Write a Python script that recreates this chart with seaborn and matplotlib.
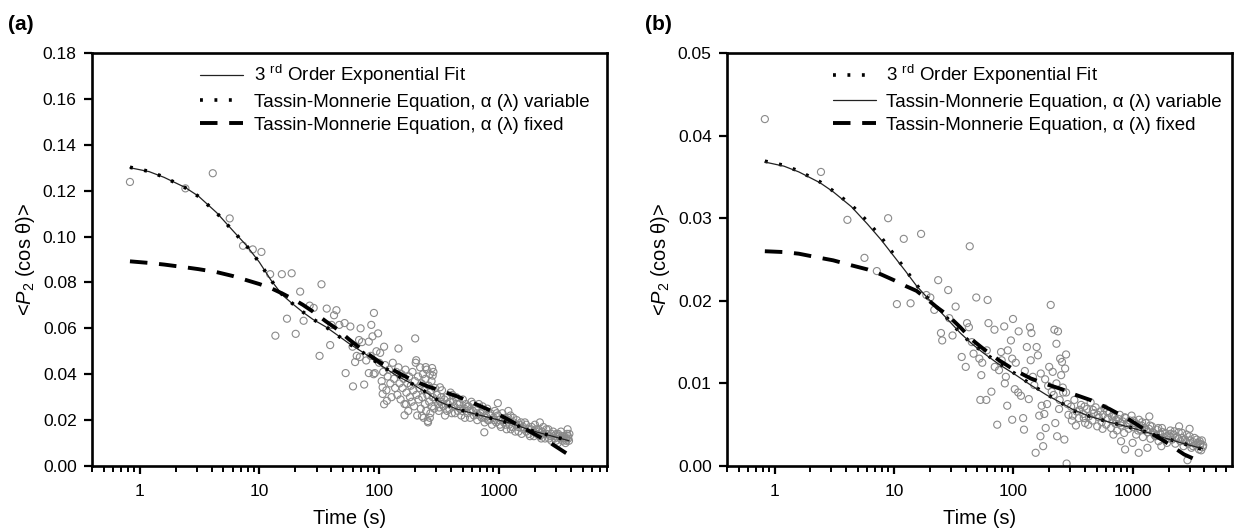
"""
Orientation decay <P2(cos theta)> vs time, two samples (a) and (b),
with 3rd order exponential fit and Tassin-Monnerie fits.
"""

import numpy as np
import pandas as pd
import matplotlib
matplotlib.use('Agg')
import matplotlib.pyplot as plt
import seaborn as sns

# ---- panel (a) measured points (time s, <P2>) ----
a_time = [0.83, 2.41, 4.08, 5.65, 7.3, 8.8, 10.4, 12.3, 15.4, 18.6, 17, 13.6, 20.1, 21.9, 23.4,
          26.3, 28.4, 33, 36.5, 31.8, 40, 44, 42, 39, 46.5, 51.5, 57.5, 52.5, 60.5, 75, 63, 69, 68,
          82, 86, 90.5, 88, 98, 82, 92, 102, 107, 110, 116, 107, 145, 200, 204, 245, 277, 280, 168,
          163, 228, 255, 265, 322, 318, 335, 980, 756, 60, 65, 72, 78, 95, 100, 90, 85, 110, 70,
          105, 108, 112, 115, 118, 121, 124, 127, 130, 133, 136, 139, 142, 145, 148, 151, 154, 157,
          160, 163, 166, 169, 172, 175, 178, 181, 184, 187, 190, 193, 196, 199, 202, 205, 208, 211,
          214, 217, 220, 223, 226, 229, 232, 235, 238, 241, 244, 247, 250, 253, 256, 259, 262, 265,
          268, 271, 274, 277, 280, 284, 288, 292, 296,
          305, 315, 325, 335, 345, 355, 365, 375, 385, 395, 405, 415, 425, 440, 455, 470, 485, 500,
          515, 530, 545, 560, 575, 590, 605, 620, 640, 660, 680, 700, 720, 740, 760, 780, 800, 825,
          850, 875, 900, 925, 950, 980, 1010, 1040, 1070, 1100, 1130, 1160, 1190, 1220, 1250, 1290,
          1330, 1370, 1410, 1450, 1500, 1550, 1600, 1650, 1700, 1760, 1820, 1880, 1940, 2000, 2070,
          2140, 2210, 2280, 2350, 2430, 2510, 2590, 2670, 2750, 2840, 2930, 3020, 3110, 3200, 3300,
          3400, 3500, 3600, 3700, 3800, 3850, 3750, 3650, 1200, 2200,
          310, 330, 350, 370, 390, 410, 430, 450, 475, 495, 520, 550, 580, 610, 650, 690, 730, 770,
          810, 860, 910, 960, 1020, 1080, 1140, 1200, 1260, 1320, 1390, 1460, 1530, 1610, 1690, 1780,
          1860, 1960, 2050, 2160, 2260, 2380, 2490, 2620, 2740, 2870, 3000, 3130, 3260, 3390, 3520,
          3660, 3780, 3880]
a_p2 = [0.1238, 0.1210, 0.1276, 0.1079, 0.0960, 0.0944, 0.0933, 0.0836, 0.0836, 0.0840, 0.0642,
        0.0568, 0.0576, 0.0760, 0.0633, 0.0699, 0.0689, 0.0792, 0.0686, 0.0480, 0.0615, 0.0679,
        0.0657, 0.0527, 0.0615, 0.0623, 0.0608, 0.0405, 0.0347, 0.0355, 0.0453, 0.0475, 0.0549,
        0.0542, 0.0615, 0.0667, 0.0565, 0.0578, 0.0405, 0.0405, 0.0493, 0.0343, 0.0269, 0.0284,
        0.0314, 0.0512, 0.0556, 0.0461, 0.0431, 0.0427, 0.0394, 0.0269, 0.0221, 0.0218, 0.0196,
        0.0210, 0.0343, 0.0255, 0.0269, 0.0274, 0.0147, 0.052, 0.048, 0.054, 0.046, 0.050, 0.045,
        0.040, 0.048, 0.052, 0.060,
        0.037, 0.041, 0.044, 0.033, 0.039, 0.042, 0.036, 0.030, 0.045, 0.038, 0.034, 0.041, 0.031,
        0.043, 0.036, 0.029, 0.040, 0.034, 0.038, 0.027, 0.042, 0.032, 0.036, 0.024, 0.039, 0.030,
        0.035, 0.028, 0.041, 0.033, 0.026, 0.037, 0.045, 0.031, 0.022, 0.039, 0.029, 0.034, 0.043,
        0.025, 0.036, 0.030, 0.040, 0.021, 0.033, 0.027, 0.038, 0.024, 0.042, 0.031, 0.019, 0.035,
        0.028, 0.040, 0.023, 0.033, 0.037, 0.026, 0.030, 0.041, 0.025, 0.034, 0.029,
        0.031, 0.024, 0.028, 0.033, 0.026, 0.022, 0.030, 0.027, 0.025, 0.032, 0.023, 0.028, 0.026,
        0.030, 0.024, 0.027, 0.022, 0.029, 0.025, 0.027, 0.023, 0.026, 0.021, 0.028, 0.024, 0.022,
        0.025, 0.020, 0.027, 0.023, 0.021, 0.024, 0.019, 0.022, 0.025, 0.020, 0.023, 0.018, 0.021,
        0.024, 0.019, 0.022, 0.020, 0.017, 0.023, 0.019, 0.021, 0.016, 0.020, 0.018, 0.022, 0.017,
        0.019, 0.015, 0.020, 0.017, 0.018, 0.014, 0.017, 0.019, 0.015, 0.016, 0.013, 0.017, 0.015,
        0.018, 0.014, 0.016, 0.013, 0.015, 0.017, 0.012, 0.014, 0.016, 0.013, 0.011, 0.015, 0.012,
        0.014, 0.010, 0.013, 0.015, 0.011, 0.013, 0.010, 0.014, 0.012, 0.011, 0.016, 0.012, 0.024,
        0.019,
        0.027, 0.030, 0.029, 0.024, 0.028, 0.031, 0.023, 0.027, 0.025, 0.024, 0.021, 0.026, 0.024,
        0.027, 0.023, 0.022, 0.026, 0.021, 0.020, 0.022, 0.020, 0.023, 0.018, 0.020, 0.018, 0.021,
        0.016, 0.021, 0.018, 0.015, 0.019, 0.016, 0.018, 0.014, 0.016, 0.013, 0.016, 0.015, 0.012,
        0.014, 0.016, 0.012, 0.014, 0.013, 0.011, 0.014, 0.012, 0.013, 0.012, 0.011, 0.013, 0.014]

# ---- panel (a) fitted curves ----
a_curve_t = [0.83, 1.2, 1.6, 2.4, 3.1, 4.4, 6, 7.8, 10, 12.5, 15.5, 19, 23, 28, 36, 45, 56, 76,
             103, 140, 190, 255, 320, 440, 640, 940, 1300, 1850, 2700, 3850]
a_fit3 = [0.1300, 0.1283, 0.1258, 0.1214, 0.1176, 0.1104, 0.1026, 0.0961, 0.0888, 0.0810, 0.0746,
          0.0706, 0.0671, 0.0639, 0.0606, 0.0570, 0.0534, 0.0490, 0.0439, 0.0394, 0.0357, 0.0316,
          0.0280, 0.0249, 0.0226, 0.0204, 0.0184, 0.0155, 0.0132, 0.0110]
a_tm_var = [0.1302, 0.1284, 0.1259, 0.1213, 0.1175, 0.1103, 0.1025, 0.0960, 0.0887, 0.0810, 0.0747,
            0.0707, 0.0672, 0.0640, 0.0606, 0.0569, 0.0533, 0.0489, 0.0439, 0.0395, 0.0357, 0.0317,
            0.0281, 0.0250, 0.0226, 0.0203, 0.0183, 0.0155, 0.0132, 0.0111]
a_tm_fix = [0.0892, 0.0885, 0.0878, 0.0866, 0.0858, 0.0845, 0.0828, 0.0810, 0.0793, 0.0775, 0.0752,
            0.0728, 0.0703, 0.0673, 0.0630, 0.0595, 0.0552, 0.0498, 0.0450, 0.0410, 0.0374, 0.0347,
            0.0330, 0.0305, 0.0270, 0.0232, 0.0192, 0.0148, 0.0100, 0.0048]

# ---- panel (b) measured points ----
b_time = [0.83, 2.45, 4.08, 5.67, 7.2, 8.95, 12.1, 16.9, 10.6, 13.8, 18.7, 20.2, 23.5, 21.8, 24.8,
          25.4, 28.5, 29.1, 31, 32.9, 37, 40, 41, 43.2, 42.5, 46.5, 49, 52, 54, 53, 59.5, 61, 62,
          65.6, 69.6, 73.4, 76, 79, 84, 86.7, 89, 95.6, 99.5, 98, 103, 98, 110, 111, 116, 121, 123,
          130, 135, 138, 142, 146, 154, 157, 161, 165, 169, 173, 178, 182, 187, 192, 196, 206, 214,
          218, 221, 225, 230, 233, 237, 242, 247, 252, 256, 262, 268, 272, 277, 280, 277,
          105, 125, 140, 150, 170, 185, 200, 210, 230, 245, 260, 285, 290, 70, 80, 90, 60, 55, 45, 85,
          305, 315, 325, 340, 355, 370, 385, 400, 415, 430, 445, 460, 475, 490, 505, 520, 535, 550,
          565, 580, 600, 620, 640, 660, 680, 700, 720, 740, 760, 780, 800, 825, 850, 875, 900, 925,
          950, 980, 1010, 1040, 1070, 1100, 1130, 1160, 1190, 1220, 1250, 1290, 1330, 1370, 1410,
          1450, 1500, 1550, 1600, 1650, 1700, 1760, 1820, 1880, 1940, 2000, 2070, 2140, 2210, 2280,
          2350, 2430, 2510, 2590, 2670, 2750, 2840, 2930, 3020, 3110, 3200, 3300, 3400, 3500, 3600,
          3700, 3800, 3870, 3750, 3650,
          310, 335, 360, 395, 425, 465, 510, 560, 610, 670, 730, 790, 860, 940, 1020, 1110, 1200,
          1300, 1400, 1520, 1640, 1780, 1920, 2080, 2240, 2420, 2600, 2800, 3000, 3200, 3450, 3680,
          3900, 390, 690, 800, 865, 1125, 1740, 2880, 1000, 1330, 3000, 2450, 1380]
b_p2 = [0.0420, 0.0356, 0.0298, 0.0252, 0.0236, 0.0300, 0.0275, 0.0281, 0.0196, 0.0197, 0.0207,
        0.0204, 0.0225, 0.0189, 0.0161, 0.0152, 0.0213, 0.0179, 0.0158, 0.0193, 0.0132, 0.0120,
        0.0173, 0.0266, 0.0168, 0.0136, 0.0204, 0.0130, 0.0110, 0.0080, 0.0080, 0.0201, 0.0173,
        0.0090, 0.0165, 0.0050, 0.0116, 0.0138, 0.0169, 0.0108, 0.0073, 0.0152, 0.0178, 0.0130,
        0.0093, 0.0056, 0.0089, 0.0163, 0.0085, 0.0058, 0.0044, 0.0144, 0.0081, 0.0168, 0.0161,
        0.0108, 0.0016, 0.0144, 0.0134, 0.0061, 0.0036, 0.0073, 0.0024, 0.0063, 0.0046, 0.0075,
        0.0097, 0.0195, 0.0114, 0.0086, 0.0165, 0.0052, 0.0148, 0.0036, 0.0163, 0.0069, 0.0130,
        0.0110, 0.0126, 0.0089, 0.0032, 0.0118, 0.0135, 0.0003, 0.0089,
        0.0125, 0.0115, 0.0128, 0.0098, 0.0112, 0.0105, 0.0120, 0.0090, 0.0100, 0.0080, 0.0095,
        0.0075, 0.0062, 0.0120, 0.0128, 0.0140, 0.0140, 0.0125, 0.0150, 0.0100,
        0.0072, 0.0061, 0.0080, 0.0066, 0.0058, 0.0074, 0.0063, 0.0052, 0.0069, 0.0060, 0.0077,
        0.0055, 0.0064, 0.0071, 0.0048, 0.0059, 0.0066, 0.0053, 0.0062, 0.0070, 0.0050, 0.0058,
        0.0064, 0.0046, 0.0055, 0.0061, 0.0051, 0.0043, 0.0057, 0.0062, 0.0049, 0.0054, 0.0040,
        0.0058, 0.0050, 0.0045, 0.0055, 0.0061, 0.0047, 0.0052, 0.0038, 0.0050, 0.0056, 0.0044,
        0.0049, 0.0035, 0.0046, 0.0052, 0.0041, 0.0045, 0.0033, 0.0048, 0.0040, 0.0036, 0.0044,
        0.0030, 0.0039, 0.0046, 0.0035, 0.0040, 0.0028, 0.0037, 0.0043, 0.0032, 0.0038, 0.0027,
        0.0035, 0.0041, 0.0030, 0.0034, 0.0024, 0.0032, 0.0038, 0.0027, 0.0031, 0.0022, 0.0029,
        0.0034, 0.0025, 0.0028, 0.0020, 0.0026, 0.0031, 0.0023, 0.0019, 0.0030,
        0.0055, 0.0049, 0.0068, 0.0072, 0.0050, 0.0068, 0.0062, 0.0045, 0.0066, 0.0060, 0.0056,
        0.0052, 0.0059, 0.0052, 0.0055, 0.0043, 0.0053, 0.0044, 0.0049, 0.0038, 0.0046, 0.0041,
        0.0036, 0.0039, 0.0042, 0.0033, 0.0040, 0.0029, 0.0036, 0.0024, 0.0032, 0.0027, 0.0025,
        0.0058, 0.0038, 0.0030, 0.0020, 0.0016, 0.0024, 0.0007, 0.0028, 0.0022, 0.0045, 0.0048,
        0.0060]

# ---- panel (b) fitted curves ----
b_curve_t = a_curve_t
b_fit3 = [0.0369, 0.0364, 0.0357, 0.0344, 0.0333, 0.0316, 0.0296, 0.0277, 0.0256, 0.0238, 0.0219,
          0.0204, 0.0192, 0.0179, 0.0161, 0.0148, 0.0138, 0.0124, 0.0112, 0.0099, 0.0087, 0.0076,
          0.0067, 0.0060, 0.0053, 0.0047, 0.0041, 0.0034, 0.0027, 0.0020]
b_tm_var = [0.0368, 0.0363, 0.0356, 0.0343, 0.0332, 0.0314, 0.0293, 0.0274, 0.0254, 0.0236,
            0.0218, 0.0204, 0.0191, 0.0178, 0.0161, 0.0148, 0.0137, 0.0123, 0.0111, 0.0098,
            0.0086, 0.0076, 0.0068, 0.0060, 0.0053, 0.0047, 0.0041, 0.0034, 0.0027, 0.0021]
b_tm_fix = [0.0260, 0.0259, 0.0257, 0.0252, 0.0249, 0.0243, 0.0238, 0.0232, 0.0225, 0.0218, 0.0212,
            0.0202, 0.0192, 0.0183, 0.0168, 0.0153, 0.0142, 0.0128, 0.0116, 0.0106, 0.0099, 0.0093,
            0.0087, 0.0080, 0.0069, 0.0056, 0.0043, 0.0030, 0.0014, 0.0004]

lbl_fit3 = '3 $^{\\mathregular{rd}}$ Order Exponential Fit'
lbl_var = 'Tassin-Monnerie Equation, α (λ) variable'
lbl_fix = 'Tassin-Monnerie Equation, α (λ) fixed'

sns.set_style('ticks')
plt.rcParams['font.family'] = ['Liberation Sans', 'DejaVu Sans']
plt.rcParams['mathtext.fontset'] = 'custom'
plt.rcParams['mathtext.rm'] = 'Liberation Sans'
plt.rcParams['mathtext.it'] = 'Liberation Sans:italic'
plt.rcParams['text.color'] = 'black'
plt.rcParams['axes.labelcolor'] = 'black'
plt.rcParams['axes.edgecolor'] = 'black'
plt.rcParams['xtick.color'] = 'black'
plt.rcParams['ytick.color'] = 'black'

fig = plt.figure(figsize=(12.35, 5.32), dpi=100)
axA = fig.add_axes([92 / 1235, 1 - 466 / 532, 515 / 1235, 413 / 532])
axB = fig.add_axes([727 / 1235, 1 - 466 / 532, 505 / 1235, 413 / 532])

solid = dict(color='#222222', linewidth=0.9, linestyle='-')
dotted = dict(color='black', linewidth=2.6, linestyle=(0, (0.8, 3.2)))
dashed = dict(color='black', linewidth=2.8, linestyle=(0, (4.5, 3.0)))


def draw_panel(ax, t, p2, ct, curves, ymax, yticks, tag):
    pts = pd.DataFrame({'t': t, 'p2': p2})
    sns.scatterplot(data=pts, x='t', y='p2', ax=ax, marker='o', s=26,
                    facecolor='none', edgecolor='#8a8a8a', linewidth=0.8,
                    legend=False, zorder=2)
    handles = []
    for yy, style, lbl in curves:
        df = pd.DataFrame({'t': ct, 'y': yy})
        sns.lineplot(data=df, x='t', y='y', ax=ax, estimator=None, sort=True,
                     zorder=3, **style)
        ln = ax.get_lines()[-1]
        ln.set_label(lbl)
        handles.append(ln)

    ax.set_xscale('log')
    ax.set_xlim(0.4, 8000 if tag == '(a)' else 6800)
    ax.set_ylim(0, ymax)
    ax.set_yticks(yticks)
    ax.set_yticklabels(['%.2f' % v for v in yticks])
    ax.set_xticks([1, 10, 100, 1000])
    ax.set_xticklabels(['1', '10', '100', '1000'])
    ax.tick_params(axis='both', which='major', direction='out', length=6, width=1.6,
                   labelsize=12.5, pad=5)
    ax.tick_params(axis='x', which='minor', direction='out', length=4, width=1.4)
    ax.tick_params(axis='x', which='major', pad=7)
    for sp in ax.spines.values():
        sp.set_visible(True)
        sp.set_linewidth(1.9)
    ax.set_xlabel('Time (s)', fontsize=14.5, labelpad=7)
    ax.set_ylabel('<$\\mathit{P}_{\\mathregular{2}}$ (cos θ)>', fontsize=14.5, labelpad=4)
    ax.legend(handles=handles, loc='upper left', bbox_to_anchor=(0.21, 0.975),
              frameon=False, fontsize=13.5, handlelength=2.3, handletextpad=0.55,
              labelspacing=0.33, borderpad=0, borderaxespad=0)
    ax.text(-0.163, 1.068, tag, transform=ax.transAxes, fontsize=15, fontweight='bold',
            ha='left', va='center')


draw_panel(axA, a_time, a_p2, a_curve_t,
           [(a_fit3, solid, lbl_fit3), (a_tm_var, dotted, lbl_var), (a_tm_fix, dashed, lbl_fix)],
           0.18, [0.00, 0.02, 0.04, 0.06, 0.08, 0.10, 0.12, 0.14, 0.16, 0.18], '(a)')
draw_panel(axB, b_time, b_p2, b_curve_t,
           [(b_fit3, dotted, lbl_fit3), (b_tm_var, solid, lbl_var), (b_tm_fix, dashed, lbl_fix)],
           0.05, [0.00, 0.01, 0.02, 0.03, 0.04, 0.05], '(b)')

fig.savefig('out.png', dpi=100)
